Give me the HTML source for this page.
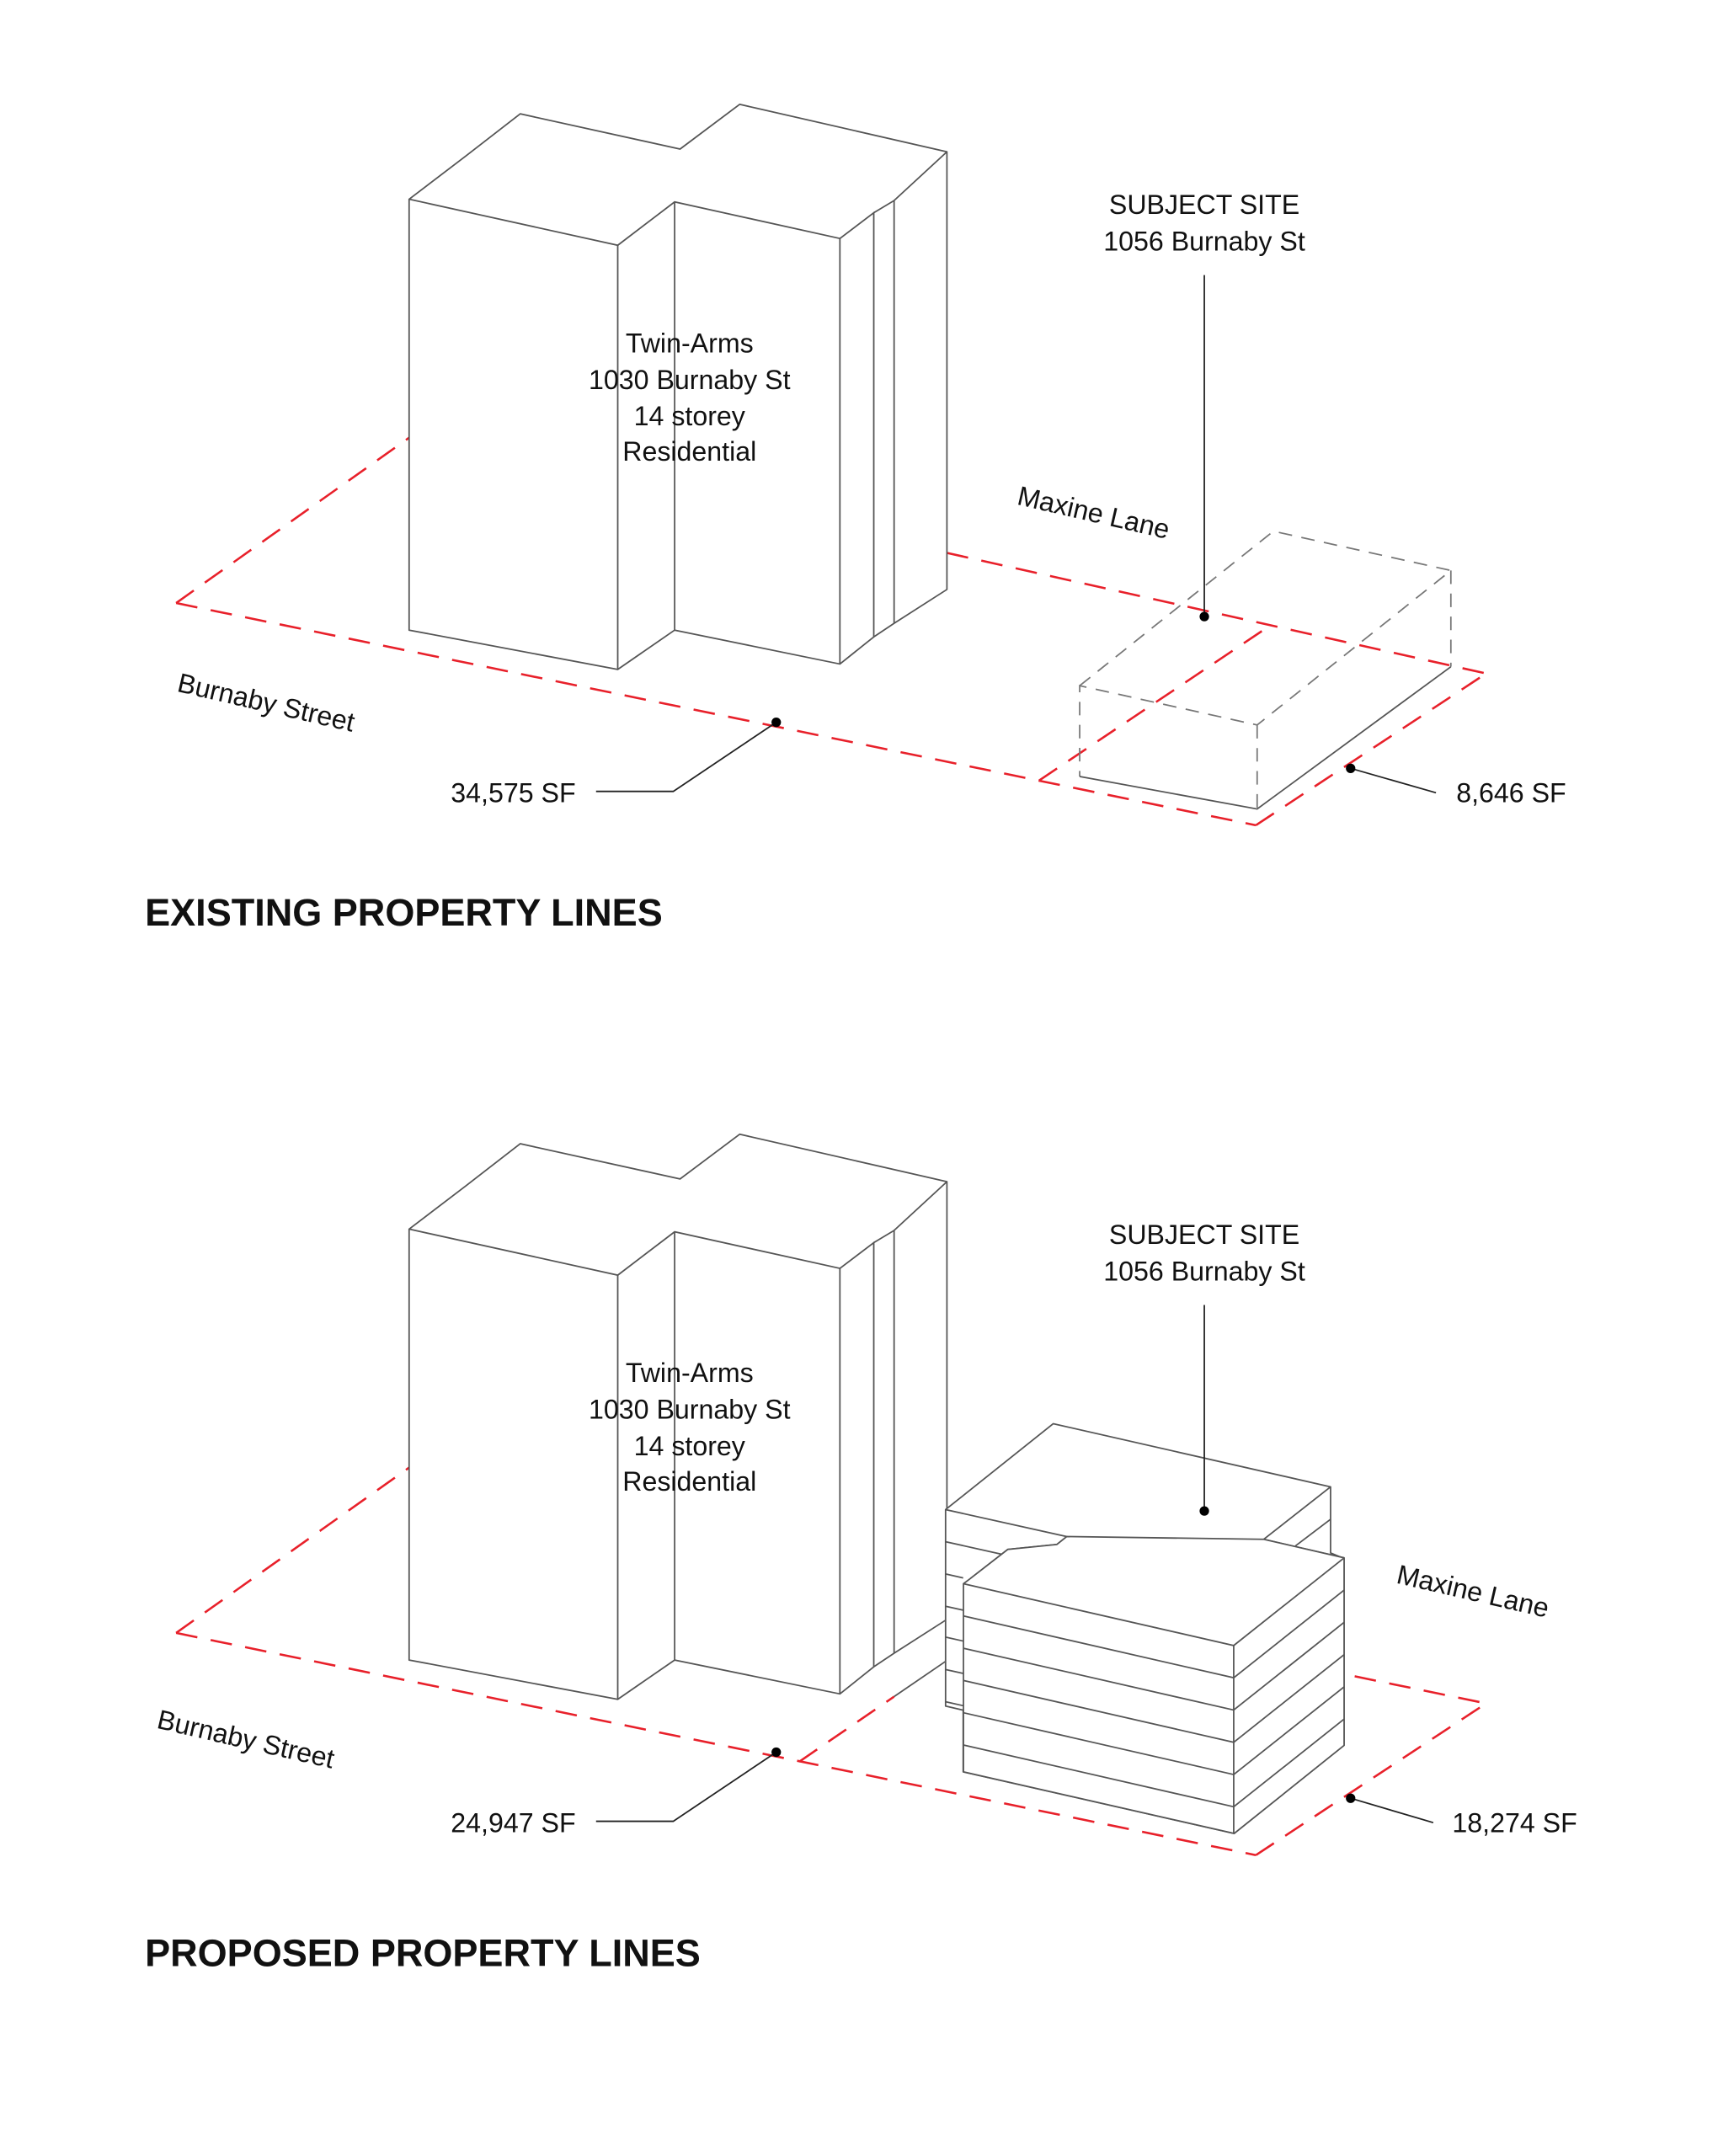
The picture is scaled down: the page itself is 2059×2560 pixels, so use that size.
<!DOCTYPE html>
<html><head><meta charset="utf-8"><style>
html,body{margin:0;padding:0;background:#fff}
svg{display:block}
text{font-family:"Liberation Sans",sans-serif;fill:#111}
.b{fill:#fff;stroke:#555;stroke-width:1.1;stroke-linejoin:round}
.l{fill:none;stroke:#555;stroke-width:1.1}
.r{fill:none;stroke:#e8202a;stroke-width:1.6;stroke-dasharray:16 10}
.g{fill:none;stroke:#777;stroke-width:1.1;stroke-dasharray:10 7}
.k{fill:none;stroke:#222;stroke-width:1.1}
.t{font-size:20px;text-anchor:middle}
.h{font-size:28px;font-weight:bold}
</style></head><body>
<svg width="2059" height="2560" viewBox="0 0 1280 1591" preserveAspectRatio="none" xmlns="http://www.w3.org/2000/svg">
<defs>
<g id="bld">
<polygon class="b" points="302,147 344,115 384,84 502,110 546,77 699,112 699,435 660,460 645,470 620,490 498,465 456,494 302,465"/>
<polyline class="l" points="302,147 456,181 456,494"/>
<polyline class="l" points="456,181 498,149 620,176 620,490"/>
<polyline class="l" points="498,149 498,465"/>
<polyline class="l" points="620,176 645,157 645,470"/>
<polyline class="l" points="645,157 660,148 660,460"/>
<polyline class="l" points="660,148 699,112"/>
</g>
</defs>

<!-- TOP -->
<line class="r" x1="130" y1="445" x2="302" y2="323"/>
<line class="r" x1="130" y1="445" x2="927" y2="609"/>
<line class="r" x1="927" y1="609" x2="1097" y2="497"/>
<line class="r" x1="699" y1="408" x2="1097" y2="497"/>
<line class="r" x1="767" y1="576" x2="937" y2="462"/>
<use href="#bld"/>
<polyline class="g" points="797,506 940,392 1071,421 928,535 797,506 797,573"/>
<line class="g" x1="928" y1="535" x2="928" y2="597"/>
<line class="g" x1="1071" y1="421" x2="1071" y2="492"/>
<polyline class="l" points="797,573 928,597 1071,492"/>
<text class="t" x="509" y="260">Twin-Arms</text>
<text class="t" x="509" y="287">1030 Burnaby St</text>
<text class="t" x="509" y="314">14 storey</text>
<text class="t" x="509" y="340">Residential</text>
<text class="t" x="889" y="158">SUBJECT SITE</text>
<text class="t" x="889" y="185">1056 Burnaby St</text>
<line class="k" x1="889" y1="203" x2="889" y2="455"/>
<circle cx="889" cy="455" r="3.5" fill="#000"/>
<text font-size="20" transform="translate(750,372) rotate(13)">Maxine Lane</text>
<text font-size="20" transform="translate(130,510) rotate(13)">Burnaby Street</text>
<polyline class="k" points="440,584 497,584 573,533"/>
<circle cx="573" cy="533" r="3.5" fill="#000"/>
<text font-size="20" x="425" y="592" text-anchor="end">34,575 SF</text>
<line class="k" x1="997" y1="567" x2="1060" y2="585"/>
<circle cx="997" cy="567" r="3.5" fill="#000"/>
<text font-size="20" x="1075" y="592">8,646 SF</text>
<text class="h" x="107" y="683">EXISTING PROPERTY LINES</text>

<!-- BOTTOM -->
<line class="r" x1="130" y1="1205" x2="302" y2="1083"/>
<line class="r" x1="130" y1="1205" x2="927" y2="1369"/>
<line class="r" x1="927" y1="1369" x2="1097" y2="1257"/>
<line class="r" x1="1000" y1="1237" x2="1097" y2="1257"/>
<line class="r" x1="590" y1="1300" x2="660" y2="1252"/>
<line class="l" x1="660" y1="1252" x2="698" y2="1226"/>
<use href="#bld" transform="translate(0,760)"/>
<!-- back block -->
<polygon class="b" points="698,1114 777.5,1050.6 982.2,1097.2 982.2,1146 992,1150 992,1288 911,1353 711,1307.5 711,1262 698,1259"/>
<polyline class="l" points="698,1114 787.4,1133.9 780.2,1139.7 743.9,1143.4 716.6,1164.6"/>
<polyline class="l" points="982.2,1097.2 932.9,1135.9 992.2,1149.6"/>
<line class="l" x1="956.3" y1="1140.8" x2="982.2" y2="1121.1"/>
<line class="l" x1="698" y1="1137.7" x2="739.8" y2="1147"/>
<line class="l" x1="698" y1="1161.5" x2="711" y2="1164.4"/>
<line class="l" x1="698" y1="1185.3" x2="711" y2="1188.2"/>
<line class="l" x1="698" y1="1208.1" x2="711" y2="1211"/>
<line class="l" x1="698" y1="1232" x2="711" y2="1234.9"/>
<line class="l" x1="698" y1="1255.8" x2="711" y2="1258.7"/>
<!-- front block -->
<polygon class="b" points="711.2,1168.7 716.6,1164.6 743.9,1143.4 780.2,1139.7 787.4,1133.9 932.9,1135.9 992.2,1149.6 992.2,1288 911,1353 711.2,1307.5"/>
<polyline class="l" points="711.2,1168.7 910.7,1214.3 992.2,1149.6"/>
<line class="l" x1="910.7" y1="1214.3" x2="910.7" y2="1353"/>
<g class="l">
<polyline points="711.2,1192.5 910.7,1238.1 992.2,1173.4"/>
<polyline points="711.2,1216.3 910.7,1261.9 992.2,1197.2"/>
<polyline points="711.2,1240.1 910.7,1285.7 992.2,1221"/>
<polyline points="711.2,1263.9 910.7,1309.5 992.2,1244.8"/>
<polyline points="711.2,1287.7 910.7,1333.3 992.2,1268.6"/>
</g>
<text class="t" x="509" y="1020">Twin-Arms</text>
<text class="t" x="509" y="1047">1030 Burnaby St</text>
<text class="t" x="509" y="1074">14 storey</text>
<text class="t" x="509" y="1100">Residential</text>
<text class="t" x="889" y="918">SUBJECT SITE</text>
<text class="t" x="889" y="945">1056 Burnaby St</text>
<line class="k" x1="889" y1="963" x2="889" y2="1115"/>
<circle cx="889" cy="1115" r="3.5" fill="#000"/>
<text font-size="20" transform="translate(1030,1168) rotate(13)">Maxine Lane</text>
<text font-size="20" transform="translate(115,1275) rotate(13)">Burnaby Street</text>
<polyline class="k" points="440,1344 497,1344 573,1293"/>
<circle cx="573" cy="1293" r="3.5" fill="#000"/>
<text font-size="20" x="425" y="1352" text-anchor="end">24,947 SF</text>
<line class="k" x1="997" y1="1327" x2="1058" y2="1345"/>
<circle cx="997" cy="1327" r="3.5" fill="#000"/>
<text font-size="20" x="1072" y="1352">18,274 SF</text>
<text class="h" x="107" y="1451">PROPOSED PROPERTY LINES</text>
</svg>
</body></html>
